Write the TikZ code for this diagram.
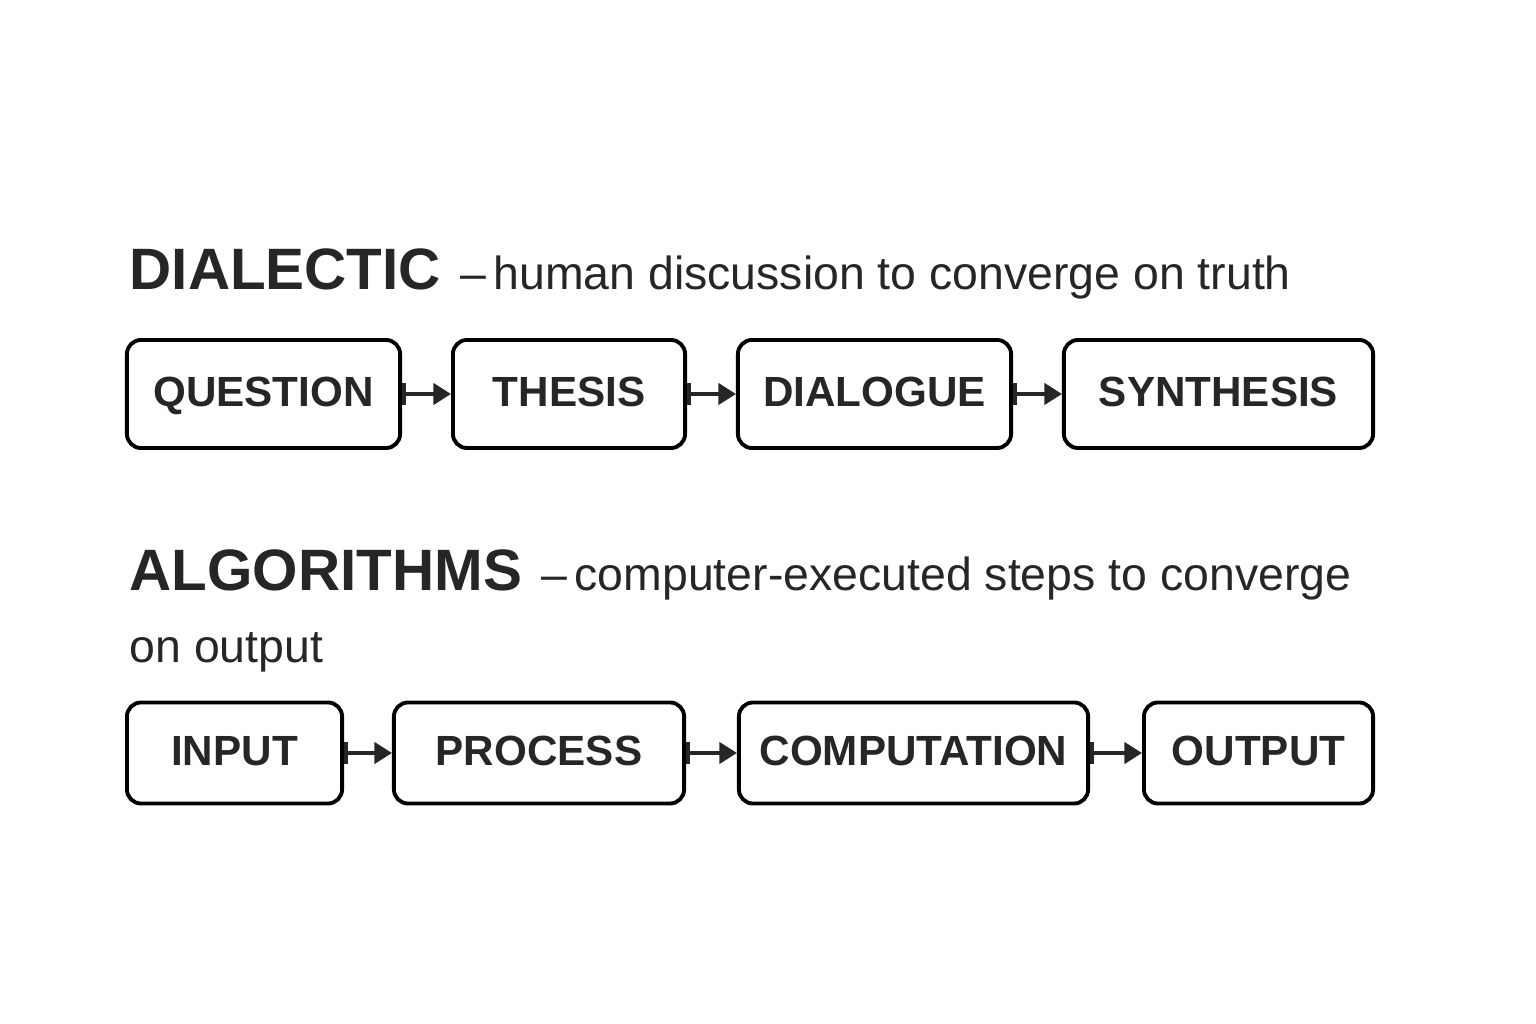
\documentclass[tikz,border=0pt]{standalone}
\usepackage{fontspec}
\setmainfont{Liberation Sans}
\usetikzlibrary{arrows.meta}
\begin{document}
\begin{tikzpicture}[x=0.01cm,y=0.01cm,
    stepbox/.style={draw, line width=1.1pt, rounded corners=4pt, inner sep=0pt, text height=1.6ex, text depth=0.25ex, font=\fontsize{12}{15}\selectfont\bfseries, text=black!85},
    flow/.style={line width=1.1pt, {Bar[width=6pt]}-{Triangle[length=5pt,width=6pt]}, black!85}]
      \useasboundingbox (0,0) rectangle (1536,1024);
      % first row
      \node (T1) at (129,734) [anchor=base west, inner sep=0pt, font=\fontsize{16.6}{20}\selectfont\bfseries, text=black!85] {DIALECTIC};
      \node (S1) at (T1.base east) [anchor=base west, xshift=5pt, inner sep=0pt, font=\fontsize{13.2}{16}\selectfont, text=black!85] {–\,human discussion to converge on truth};
      \node (QU) at (263.5,630) [stepbox, minimum width=2.73cm, minimum height=1.08cm] {QUESTION};
      \node (TH) at (569,630) [stepbox, minimum width=2.32cm, minimum height=1.08cm] {THESIS};
      \node (DI) at (874.5,630) [stepbox, minimum width=2.73cm, minimum height=1.08cm] {DIALOGUE};
      \node (SY) at (1218.5,630) [stepbox, minimum width=3.09cm, minimum height=1.08cm] {SYNTHESIS};
      \draw[flow] (QU) -- (TH);
      \draw[flow] (TH) -- (DI);
      \draw[flow] (DI) -- (SY);
      % second row
      \node (T2) at (129,433) [anchor=base west, inner sep=0pt, font=\fontsize{16.6}{20}\selectfont\bfseries, text=black!85] {ALGORITHMS};
      \node (S2) at (T2.base east) [anchor=base west, xshift=5pt, inner sep=0pt, font=\fontsize{13.2}{16}\selectfont, text=black!85] {–\,computer-executed steps to converge};
      \node (S3) at (129,361) [anchor=base west, inner sep=0pt, font=\fontsize{13.2}{16}\selectfont, text=black!85] {on output};
      \node (IN) at (234.5,271) [stepbox, minimum width=2.15cm, minimum height=1.01cm] {INPUT};
      \node (PR) at (539,271) [stepbox, minimum width=2.90cm, minimum height=1.01cm] {PROCESS};
      \node (CO) at (913.5,271) [stepbox, minimum width=3.49cm, minimum height=1.01cm] {COMPUTATION};
      \node (OU) at (1258.5,271) [stepbox, minimum width=2.29cm, minimum height=1.01cm] {OUTPUT};
      \draw[flow] (IN) -- (PR);
      \draw[flow] (PR) -- (CO);
      \draw[flow] (CO) -- (OU);
    \end{tikzpicture}
\end{document}
